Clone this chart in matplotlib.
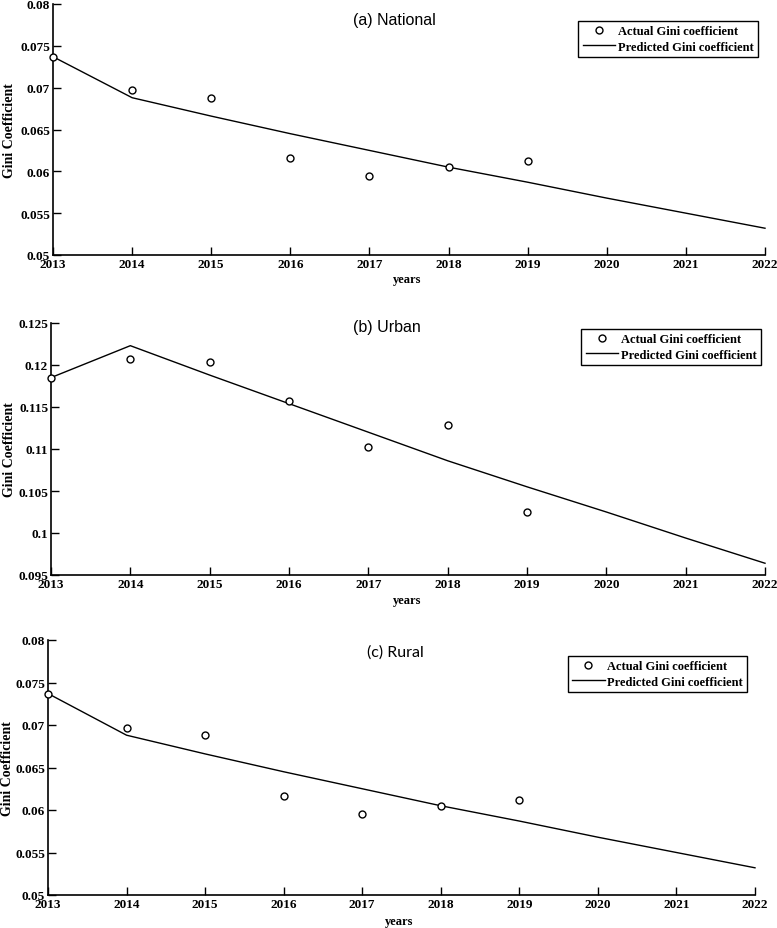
import matplotlib
matplotlib.use("Agg")
import matplotlib.pyplot as plt
from matplotlib.lines import Line2D

# ---------------- data ----------------
years_actual = [2013, 2014, 2015, 2016, 2017, 2018, 2019]
years_pred = [2013, 2014, 2015, 2016, 2017, 2018, 2019, 2020, 2021, 2022]

national_actual = [0.0737, 0.0697, 0.0688, 0.0616, 0.0595, 0.0605, 0.0612]
national_pred = [0.0737, 0.0688, 0.0666, 0.0645, 0.0625, 0.0605, 0.0587, 0.0568, 0.0550, 0.0532]

urban_actual = [0.1185, 0.1207, 0.1204, 0.1157, 0.1102, 0.1128, 0.1025]
urban_pred = [0.1185, 0.1223, 0.1188, 0.1154, 0.1120, 0.1086, 0.1055, 0.1025, 0.0994, 0.0964]

rural_actual = [0.0737, 0.0697, 0.0688, 0.0616, 0.0595, 0.0605, 0.0612]
rural_pred = [0.0737, 0.0688, 0.0666, 0.0645, 0.0625, 0.0605, 0.0587, 0.0568, 0.0550, 0.0532]

titles = ["(a) National", "(b) Urban", "(c) Rural"]
ylims = [(0.05, 0.08), (0.095, 0.125), (0.05, 0.08)]
yticks = [[0.05, 0.055, 0.06, 0.065, 0.07, 0.075, 0.08],
          [0.095, 0.1, 0.105, 0.11, 0.115, 0.12, 0.125],
          [0.05, 0.055, 0.06, 0.065, 0.07, 0.075, 0.08]]
ytick_labels = [["0.05", "0.055", "0.06", "0.065", "0.07", "0.075", "0.08"],
                ["0.095", "0.1", "0.105", "0.11", "0.115", "0.12", "0.125"],
                ["0.05", "0.055", "0.06", "0.065", "0.07", "0.075", "0.08"]]
xticks = list(range(2013, 2023))
legend_labels = ["Actual Gini coefficient", "Predicted Gini coefficient"]

# ---------------- layout ----------------
W, H = 777, 929
fig = plt.figure(figsize=(W / 100, H / 100), dpi=100)

# (left, right, top, bottom) in pixels
boxes = [(53, 765, 5, 256), (51, 765, 324, 576), (48, 755, 641, 896)]
title_pos = [(0.479, 0.940), (0.471, 0.988), (0.491, 0.953)]
title_fonts = ["Liberation Sans", "Liberation Sans", "Lato"]
legend_pos = [(0.990, 0.932), (0.994, 0.976), (0.989, 0.937)]
xlabel_pos = [(0.497, -0.072), (0.499, -0.075), (0.496, -0.078)]
ylabel_x = [-0.052, -0.049, -0.048]

serif = "Liberation Serif"
data = [(national_actual, national_pred), (urban_actual, urban_pred), (rural_actual, rural_pred)]

for i, (l, r, t, b) in enumerate(boxes):
    ax = fig.add_axes([l / W, 1 - b / H, (r - l) / W, (b - t) / H])
    act, pred = data[i]
    ax.plot(years_pred, pred, color="black", lw=1.0, clip_on=False, zorder=2)
    ax.plot(years_actual, act, linestyle="none", marker="o", markersize=5,
            markerfacecolor="white", markeredgecolor="black", markeredgewidth=1.0,
            clip_on=False, zorder=3)
    ax.set_xlim(2013, 2022)
    ax.set_ylim(*ylims[i])
    ax.set_xticks(xticks)
    ax.set_xticklabels([str(x) for x in xticks], fontfamily=serif, fontweight="bold", fontsize=9.5)
    ax.set_yticks(yticks[i])
    ax.set_yticklabels(ytick_labels[i], fontfamily=serif, fontweight="bold", fontsize=9.5)
    ax.tick_params(direction="in", length=6, width=1.0, pad=2)
    for s in ["top", "right"]:
        ax.spines[s].set_visible(False)
    for s in ["left", "bottom"]:
        ax.spines[s].set_linewidth(1.2)
    ax.set_ylabel("Gini Coefficient", fontfamily=serif, fontweight="bold", fontsize=10)
    ax.yaxis.set_label_coords(ylabel_x[i], 0.5)
    ax.set_xlabel("years", fontfamily=serif, fontweight="bold", fontsize=9)
    ax.xaxis.set_label_coords(*xlabel_pos[i])
    ax.text(title_pos[i][0], title_pos[i][1], titles[i], transform=ax.transAxes,
            ha="center", va="center", fontsize=11.5, fontfamily=title_fonts[i])
    handles = [Line2D([], [], linestyle="none", marker="o", markersize=5,
                      markerfacecolor="white", markeredgecolor="black", markeredgewidth=1.0),
               Line2D([], [], color="black", lw=1.0)]
    leg = ax.legend(handles, legend_labels, loc="upper right", bbox_to_anchor=legend_pos[i],
                    frameon=True, fancybox=False, edgecolor="black", framealpha=1,
                    prop={"family": serif, "weight": "bold", "size": 9},
                    handlelength=2.6, handletextpad=0.2, labelspacing=0.25,
                    borderpad=0.35, borderaxespad=0)
    leg.get_frame().set_linewidth(1.0)

fig.savefig("out.png", dpi=100)
